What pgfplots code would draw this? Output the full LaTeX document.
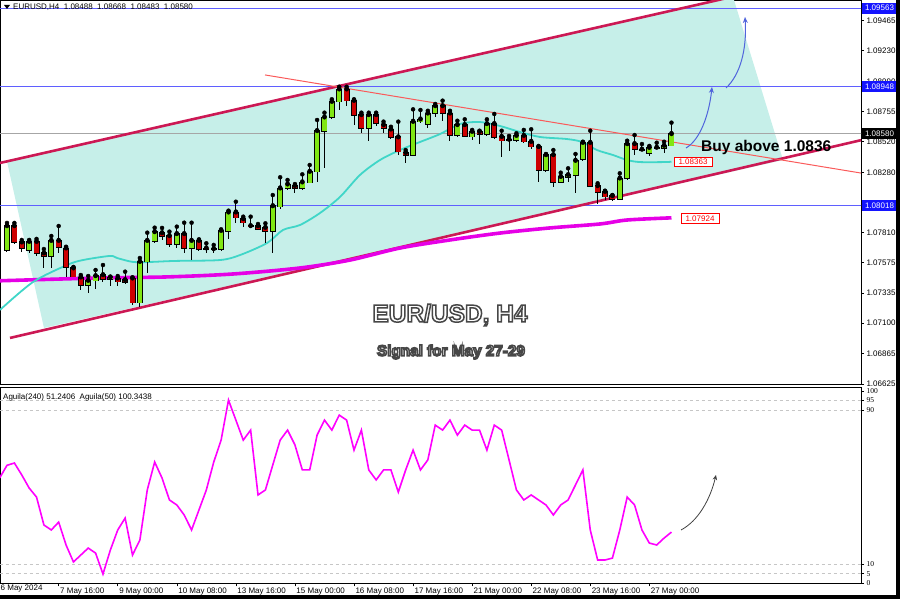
\documentclass[border=0pt]{standalone}
\usepackage{pgfplots}
\pgfplotsset{compat=1.18}
\usepackage{pgfplotstable}
\usepackage{fontspec}
\setmainfont{Liberation Sans}
\newfontfamily\serifx{Liberation Serif}
\usetikzlibrary{arrows.meta}

\definecolor{chanfill}{RGB}{198,239,233}
\definecolor{chanline}{RGB}{204,24,84}
\definecolor{trendred}{RGB}{250,90,90}
\definecolor{hblue}{RGB}{95,95,255}
\definecolor{boxblue}{RGB}{20,20,255}
\definecolor{maCyan}{RGB}{64,214,200}
\definecolor{maMag}{RGB}{230,0,230}
\definecolor{bullc}{RGB}{128,230,20}
\definecolor{bearc}{RGB}{205,0,0}
\definecolor{oscc}{RGB}{255,0,255}
\definecolor{arrblue}{RGB}{80,100,220}

\pgfplotstableread{
k O H L C
0 1.07673 1.07884 1.07659 1.07860
3 1.07673 1.07751 1.07649 1.07737
6 1.07626 1.07782 1.07532 1.07745
11 1.07399 1.07469 1.07339 1.07433
12 1.07433 1.07516 1.07365 1.07469
14 1.07444 1.07462 1.07391 1.07459
18 1.07261 1.07610 1.07229 1.07581
19 1.07581 1.07808 1.07490 1.07745
20 1.07743 1.07847 1.07725 1.07813
23 1.07720 1.07855 1.07686 1.07798
25 1.07686 1.07886 1.07594 1.07745
29 1.07678 1.07834 1.07667 1.07823
30 1.07823 1.07980 1.07756 1.07967
36 1.07823 1.08102 1.07652 1.08016
37 1.08011 1.08241 1.07991 1.08155
38 1.08155 1.08220 1.08142 1.08186
40 1.08155 1.08264 1.08142 1.08202
41 1.08199 1.08337 1.08194 1.08285
42 1.08285 1.08689 1.08206 1.08603
43 1.08603 1.08746 1.08311 1.08710
44 1.08710 1.08851 1.08694 1.08832
45 1.08832 1.08949 1.08767 1.08929
49 1.08624 1.08746 1.08527 1.08728
55 1.08415 1.08772 1.08407 1.08676
56 1.08676 1.08767 1.08668 1.08694
57 1.08658 1.08761 1.08624 1.08741
58 1.08741 1.08814 1.08710 1.08798
61 1.08571 1.08683 1.08558 1.08650
63 1.08558 1.08611 1.08532 1.08597
65 1.08579 1.08694 1.08564 1.08658
69 1.08532 1.08585 1.08519 1.08566
73 1.08298 1.08423 1.08285 1.08415
75 1.08206 1.08277 1.08194 1.08245
76 1.08241 1.08311 1.08206 1.08259
77 1.08259 1.08423 1.08116 1.08371
78 1.08382 1.08519 1.08371 1.08511
83 1.08069 1.08272 1.08063 1.08233
84 1.08233 1.08527 1.08220 1.08501
87 1.08428 1.08486 1.08407 1.08472
88 1.08471 1.08511 1.08460 1.08473
89 1.08472 1.08519 1.08433 1.08488
90 1.08488 1.08668 1.08483 1.08580
}\bull

\pgfplotstableread{
k O H L C
1 1.07860 1.07884 1.07720 1.07733
2 1.07733 1.07751 1.07659 1.07686
4 1.07737 1.07759 1.07626 1.07647
5 1.07647 1.07680 1.07532 1.07626
7 1.07745 1.07860 1.07649 1.07694
8 1.07686 1.07698 1.07464 1.07537
9 1.07530 1.07540 1.07462 1.07464
10 1.07459 1.07477 1.07360 1.07399
13 1.07477 1.07555 1.07425 1.07444
15 1.07451 1.07469 1.07391 1.07425
16 1.07438 1.07503 1.07407 1.07422
17 1.07451 1.07459 1.07243 1.07261
21 1.07805 1.07845 1.07751 1.07780
22 1.07782 1.07816 1.07698 1.07720
24 1.07798 1.07886 1.07647 1.07686
26 1.07745 1.07756 1.07667 1.07680
27 1.07686 1.07725 1.07652 1.07678
28 1.07680 1.07712 1.07647 1.07679
31 1.07967 1.08050 1.07881 1.07925
32 1.07915 1.07933 1.07855 1.07886
33 1.07860 1.07933 1.07842 1.07859
34 1.07860 1.07876 1.07829 1.07834
35 1.07847 1.07881 1.07725 1.07823
39 1.08175 1.08188 1.08116 1.08155
46 1.08929 1.08949 1.08798 1.08840
47 1.08840 1.08851 1.08650 1.08728
48 1.08728 1.08746 1.08590 1.08624
50 1.08728 1.08746 1.08642 1.08663
51 1.08650 1.08676 1.08585 1.08624
52 1.08616 1.08636 1.08538 1.08554
53 1.08554 1.08676 1.08415 1.08441
54 1.08433 1.08454 1.08350 1.08415
59 1.08798 1.08840 1.08683 1.08741
60 1.08741 1.08761 1.08527 1.08571
62 1.08650 1.08694 1.08554 1.08564
64 1.08597 1.08605 1.08501 1.08579
66 1.08658 1.08736 1.08538 1.08554
67 1.08558 1.08605 1.08402 1.08527
68 1.08536 1.08564 1.08449 1.08534
70 1.08566 1.08611 1.08511 1.08519
71 1.08519 1.08616 1.08460 1.08480
72 1.08480 1.08480 1.08206 1.08298
74 1.08415 1.08454 1.08163 1.08206
79 1.08511 1.08605 1.08163 1.08173
80 1.08173 1.08194 1.08032 1.08128
81 1.08128 1.08136 1.08063 1.08089
82 1.08095 1.08102 1.08056 1.08069
85 1.08501 1.08571 1.08415 1.08460
86 1.08458 1.08501 1.08449 1.08456
}\bear

\pgfplotsset{
  candlebar/.style 2 args={only marks, mark=none, forget plot,
    error bars/.cd, y dir=minus, y explicit, error mark=none,
    error bar style={draw=#1, line width=#2}},
}

\newcommand\outl[3]{%
  \node[text=white, font=#2, inner sep=0pt] at #1
    {\special{pdf:literal direct 2 Tr 1.5 w 0.28 0.28 0.28 RG}#3\special{pdf:literal direct 0 Tr}};}

\begin{document}
\begin{tikzpicture}
\useasboundingbox (0pt,0pt) rectangle (900pt,599pt);

% ---------------- price panel ----------------
\begin{axis}[
  at={(0pt,599pt)}, anchor=north west,
  width=861pt, height=384pt, scale only axis,
  xmin=-0.948, xmax=115.67,
  ymin=1.06625, ymax=1.09627,
  axis line style={black, line width=0.8pt},
  xtick=\empty,
  ytick={1.06625,1.06865,1.07100,1.07335,1.07575,1.07810,1.08045,1.08280,1.08520,1.08755,1.08990,1.09230,1.09465},
  yticklabels={1.06625,1.06865,1.07100,1.07335,1.07575,1.07810,,1.08280,1.08520,1.08755,1.08990,1.09230,1.09465},
  ytick pos=right, yticklabel pos=right,
  yticklabel style={font=\fontsize{8}{9}\selectfont, anchor=west, xshift=-1pt},
  tick align=outside, major tick length=3pt,
  tick style={black, line width=0.6pt},
]
% channel fill
\addplot[fill=chanfill, draw=none, forget plot] coordinates {
  (0,1.08365) (98.33,1.09653) (105.11,1.08376) (5.01,1.07063)} -- cycle;
% horizontal lines
\addplot[hblue, line width=1.2pt] coordinates {(-1,1.09563) (116,1.09563)};
\addplot[hblue, line width=1.2pt] coordinates {(-1,1.08948) (116,1.08948)};
\addplot[hblue, line width=1.2pt] coordinates {(-1,1.08018) (116,1.08018)};
\addplot[gray!70, line width=1pt] coordinates {(-1,1.08580) (116,1.08580)};
% channel lines
\addplot[chanline, line width=2.6pt] coordinates {(-0.948,1.08353) (115.67,1.09880)};
\addplot[chanline, line width=2.6pt] coordinates {(0.406,1.06985) (115.67,1.08531)};
% descending thin trendline
\addplot[trendred, line width=1pt] coordinates {(34.95,1.09041) (115.67,1.08274)};
% moving averages
\addplot[maMag, line width=3.6pt, smooth] coordinates {
 (-0.948,1.07432) (12.60,1.07454) (21.67,1.07462) (30.61,1.07485) (39.69,1.07532)
 (46.46,1.07594) (53.23,1.07688) (60.00,1.07751) (66.78,1.07805) (73.55,1.07845)
 (80.32,1.07876) (83.98,1.07907) (90,1.07924)};
\addplot[maCyan, line width=1.8pt, smooth] coordinates {
 (-0.948,1.07204) (3.52,1.07422) (8.13,1.07555) (10.29,1.07594) (13.95,1.07626)
 (14.90,1.07610) (17.07,1.07579) (19.37,1.07579) (22.75,1.07587) (28.85,1.07594)
 (31.56,1.07633) (35.22,1.07727) (37.38,1.07829) (39.69,1.07868) (42.40,1.07962)
 (45.10,1.08087) (47.81,1.08259) (50.52,1.08376) (53.23,1.08454)
 (55.94,1.08517) (58.65,1.08579) (61.36,1.08658) (64.07,1.08673) (66.77,1.08642)
 (69.48,1.08595) (72.19,1.08556) (75.85,1.08540) (77.88,1.08517) (79.91,1.08454)
 (82.08,1.08415) (83.98,1.08376) (85.74,1.08360) (89.12,1.08360) (90,1.08363)};
% candles: wicks
\addplot[candlebar={black}{1pt}] table[x=k, y=H, y error minus expr=\thisrow{H}-\thisrow{L}] {\bull};
\addplot[candlebar={black}{1pt}] table[x=k, y=H, y error minus expr=\thisrow{H}-\thisrow{L}] {\bear};
% bodies
\addplot[candlebar={black}{6pt}] table[x=k, y expr=\thisrow{C}+0.00006, y error minus expr=\thisrow{C}-\thisrow{O}+0.00012] {\bull};
\addplot[candlebar={bullc}{4.4pt}] table[x=k, y=C, y error minus expr=\thisrow{C}-\thisrow{O}] {\bull};
\addplot[candlebar={black}{6pt}] table[x=k, y expr=\thisrow{O}+0.00006, y error minus expr=\thisrow{O}-\thisrow{C}+0.00012] {\bear};
\addplot[candlebar={bearc}{4.4pt}] table[x=k, y=O, y error minus expr=\thisrow{O}-\thisrow{C}] {\bear};
\end{axis}

% ---------------- oscillator panel ----------------
\begin{axis}[
  at={(0pt,212pt)}, anchor=north west,
  width=861pt, height=196.3pt, scale only axis,
  xmin=-0.948, xmax=115.67,
  ymin=0, ymax=102,
  axis line style={black, line width=0.8pt},
  xtick={7,15,23,31,39,47,55,63,71,79,87},
  xticklabels={7 May 16:00,9 May 00:00,10 May 08:00,13 May 16:00,15 May 00:00,16 May 08:00,17 May 16:00,21 May 00:00,22 May 08:00,23 May 16:00,27 May 00:00},
  xtick pos=bottom,
  xticklabel style={font=\fontsize{8}{9}\selectfont, anchor=north west, xshift=-2pt, yshift=2pt},
  ytick={0,5,10,90,95,100},
  yticklabels={0,5,10,90,95,100},
  ytick pos=right, yticklabel pos=right,
  yticklabel style={font=\serifx\fontsize{7.5}{8}\selectfont, anchor=west, xshift=-1pt},
  tick align=outside, major tick length=3pt,
  tick style={black, line width=0.6pt},
]
\addplot[gray!45, line width=0.6pt, dash pattern=on 3pt off 3pt] coordinates {(-1,95) (116,95)};
\addplot[gray!45, line width=0.6pt, dash pattern=on 3pt off 3pt] coordinates {(-1,90) (116,90)};
\addplot[gray!45, line width=0.6pt, dash pattern=on 3pt off 3pt] coordinates {(-1,10) (116,10)};
\addplot[gray!45, line width=0.6pt, dash pattern=on 3pt off 3pt] coordinates {(-1,5) (116,5)};
\addplot[oscc, line width=1.6pt] coordinates {
(-1,54.7) (0,61.3) (1,62.5) (2,56.3) (3,49.5) (4,44.8) (5,30.3) (6,27.7) (7,31.8) (8,19.9) (9,11.1)
(10,14.7) (11,18.3) (12,15.7) (13,4.8) (14,17.3) (15,27.7) (16,33.9) (17,14.7) (18,22.5) (19,48.5)
(20,63.0) (21,54.7) (22,43.3) (23,40.7) (24,35.5) (25,27.7) (26,38.1) (27,48.5) (28,63.0) (29,74.4)
(30,95.2) (31,84.8) (32,74.4) (33,79.6) (34,45.9) (35,48.5) (36,61.5) (37,74.4) (38,79.6) (39,71.9)
(40,58.9) (41,58.9) (42,77.0) (43,84.8) (44,79.6) (45,87.4) (46,84.8) (47,69.2) (48,79.6) (49,58.9)
(50,53.7) (51,58.9) (52,58.9) (53,47.4) (54,58.9) (55,69.2) (56,58.9) (57,64.1) (58,82.2) (59,79.6)
(60,84.8) (61,77.0) (62,82.2) (63,79.6) (64,79.6) (65,69.2) (66,82.2) (67,79.6) (68,64.1) (69,48.5)
(70,43.3) (71,45.9) (72,43.3) (73,40.7) (74,35.5) (75,40.7) (76,43.3) (77,51.1) (78,58.9) (79,27.7)
(80,12.1) (81,12.1) (82,13.1) (83,27.7) (84,44.8) (85,40.7) (86,27.7) (87,20.9) (88,19.9) (89,23.5)
(90,26.6)};
\end{axis}

% ---------------- annotations in pixel coordinates ----------------
\begin{scope}[x=1pt, y=-1pt, shift={(0pt,599pt)}]
  % header
  \fill[black] (4,5) -- (10,5) -- (7,9) -- cycle;
  \node[anchor=west, inner sep=0pt, font=\fontsize{8}{9}\selectfont] at (13,7.5)
    {EURUSD,H4\ \ 1.08488\ \ 1.08668\ \ 1.08483\ \ 1.08580};
  \node[anchor=west, inner sep=0pt, font=\fontsize{8}{9}\selectfont] at (3,397.5)
    {Aguila(240) 51.2406\ \ Aguila(50) 100.3438};
  % right axis boxes
  \fill[boxblue] (862,2.7) rectangle (897,13.7);
  \node[text=white, inner sep=0pt, font=\fontsize{8}{9}\selectfont] at (879.5,8.2) {1.09563};
  \fill[boxblue] (862,81.3) rectangle (897,92.3);
  \node[text=white, inner sep=0pt, font=\fontsize{8}{9}\selectfont] at (879.5,86.8) {1.08948};
  \fill[boxblue] (862,200.3) rectangle (897,211.3);
  \node[text=white, inner sep=0pt, font=\fontsize{8}{9}\selectfont] at (879.5,205.8) {1.08018};
  \fill[black] (862,128.4) rectangle (897,139.4);
  \node[text=white, inner sep=0pt, font=\fontsize{8}{9}\selectfont] at (879.5,133.9) {1.08580};
  % MA price labels
  \draw[red, fill=white, line width=0.6pt] (674,157) rectangle (712,166.5);
  \node[text=red, inner sep=0pt, font=\fontsize{8}{9}\selectfont] at (693,161.8) {1.08363};
  \draw[red, fill=white, line width=0.6pt] (681,213.5) rectangle (719,223);
  \node[text=red, inner sep=0pt, font=\fontsize{8}{9}\selectfont] at (700,218.3) {1.07924};
  % buy text
  \node[anchor=west, inner sep=0pt, font=\fontsize{15.5}{17}\selectfont\bfseries] at (701,148) {Buy above 1.0836};
  % blue arrows
  \draw[arrblue, line width=1pt, -{Stealth[length=6pt,width=5pt]}] (686,148) .. controls (700,140) and (709,115) .. (712,87);
  \draw[arrblue, line width=1pt, -{Stealth[length=6pt,width=5pt]}] (726,88) .. controls (740,75) and (747,50) .. (745,17);
  % oscillator arrow
  \draw[black!75, line width=0.8pt, -{Stealth[length=5pt,width=4.5pt]}] (681,530) .. controls (698,521) and (710,500) .. (716,475);
  % titles
  \outl{(450,315)}{\fontsize{24.5}{28}\selectfont\bfseries}{EUR/USD, H4}
  \outl{(451,352)}{\fontsize{15.3}{17}\selectfont\bfseries}{Signal for May 27-29}
  % first date label
  \node[anchor=north west, inner sep=0pt, font=\fontsize{8}{9}\selectfont] at (0.5,585) {6 May 2024};
  % outer border
  \fill[black] (895.5,0) rectangle (900,599);
  \fill[black] (0,595.5) rectangle (900,599);
\end{scope}
\end{tikzpicture}
\end{document}
